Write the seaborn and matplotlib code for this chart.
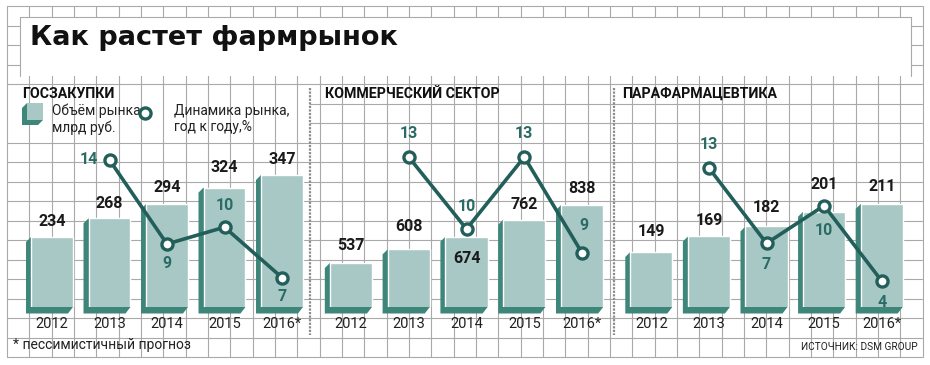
import matplotlib
matplotlib.use("Agg")
import matplotlib.pyplot as plt
from matplotlib.patches import Polygon, Rectangle
import seaborn as sns

# --- data ---
years = ["2012", "2013", "2014", "2015", "2016*"]

gos_volume = [234, 268, 294, 324, 347]
gos_growth = [14, 9, 10, 7]
com_volume = [537, 608, 674, 762, 838]
com_growth = [13, 10, 13, 9]
para_volume = [149, 169, 182, 201, 211]
para_growth = [13, 7, 10, 4]

panel_titles = ["ГОСЗАКУПКИ", "КОММЕРЧЕСКИЙ СЕКТОР", "ПАРАФАРМАЦЕВТИКА"]

# --- style ---
sns.set_style("white")
NARROW = ["Roboto", "DejaVu Sans"]
BOLD = ["Roboto", "DejaVu Sans"]
plt.rcParams["font.family"] = NARROW

GRID = "#a9a9a9"
FACE = "#a8c8c5"
SIDE = "#3e857a"
LINE = "#235f5a"
TEAL_TXT = "#2b6b65"
INK = "#222222"

W, H = 930, 365


def px_rect(x0, y0, x1, y1):
    return [x0 / W, 1 - y1 / H, (x1 - x0) / W, (y1 - y0) / H]


fig = plt.figure(figsize=(W / 100, H / 100), dpi=100)

# background grid in pixel coordinates
bg = fig.add_axes([0, 0, 1, 1])
bg.set_xlim(0, W)
bg.set_ylim(H, 0)
bg.axis("off")

gx = [7 + 22.33 * k for k in range(42)]
gy = [6 + 19.5 * j for j in range(19)]
for x in gx:
    bg.plot([x, x], [6, 357], color=GRID, lw=0.8, zorder=1)
for y in gy:
    if 90 < y < 135:
        bg.plot([310, 922], [y, y], color=GRID, lw=0.8, zorder=1)
    else:
        bg.plot([7, 922], [y, y], color=GRID, lw=0.8, zorder=1)

# title box
bg.add_patch(Rectangle((20, 17), 891, 59, facecolor="white", edgecolor="none", zorder=2))
bg.plot([20, 911], [17, 17], color=GRID, lw=0.8, zorder=3)
bg.plot([20, 20], [17, 76], color=GRID, lw=0.8, zorder=3)
bg.plot([911, 911], [17, 76], color=GRID, lw=0.8, zorder=3)
bg.text(30, 45, "Как растет фармрынок", fontsize=19.5, fontweight="black",
        family=["DejaVu Sans"], color="#111111", va="baseline", ha="left", zorder=4)

# separators
for sx in [310, 614]:
    bg.plot([sx, sx], [88, 335], color="#8c8c8c", lw=1.6, ls=(0, (1, 0.6)), zorder=3)

# legend
d = 5
bg.add_patch(Polygon([(27, 103), (27 - d, 103 + d), (27 - d, 125), (43 - d, 125), (43, 120)],
                     closed=True, facecolor=SIDE, edgecolor="none", zorder=3))
bg.add_patch(Rectangle((27, 103), 16, 17, facecolor=FACE, edgecolor="none", zorder=4))
bg.text(52, 119, "Объём рынка\nмлрд руб.", fontsize=10, va="center", ha="left",
        linespacing=1.2, color=INK, zorder=4)
bg.plot([145], [113], marker="o", ms=8, mfc="white", mec=LINE, mew=2.4, zorder=4)
bg.text(174, 119, "Динамика рынка,\nгод к году,%", fontsize=10, va="center", ha="left",
        linespacing=1.2, color=INK, zorder=4)

bg.text(13, 345, "* пессимистичный прогноз", fontsize=10, va="center", ha="left",
        color=INK, zorder=4)
bg.text(918, 347, "ИСТОЧНИК: DSM GROUP", fontsize=7.3, va="center", ha="right",
        color=INK, zorder=4)

# panels
panels = [
    dict(x=(23.25, 310.75), vol=gos_volume, gr=gos_growth, ylim=(106.5, 520), ylim2=(5.25, 18.76),
         title_x=22, vol_off=[16, 15, 17, 20, 15],
         gr_off=[(-21, 0), (0, -20), (0, 22), (0, -19)]),
    dict(x=(322, 611), vol=com_volume, gr=com_growth, ylim=(309, 1487), ylim2=(6.75, 16.21),
         title_x=325, vol_off=[18, 23, -22, 15, 17],
         gr_off=[(0, 24), (0, 23), (0, 24), (2, 28)]),
    dict(x=(622.5, 910.5), vol=para_volume, gr=para_growth, ylim=(78, 371), ylim2=(1.93, 20.0),
         title_x=622, vol_off=[20, 16, 19, 27, 17],
         gr_off=[(0, 23), (0, -21), (0, -25), (0, -22)]),
]

AX_TOP, AX_BOT = 80, 307

for p, title in zip(panels, panel_titles):
    x0, x1 = p["x"]
    ax = fig.add_axes(px_rect(x0, AX_TOP, x1, AX_BOT))
    ax.patch.set_alpha(0)
    sns.barplot(x=years, y=p["vol"], ax=ax, color=FACE, saturation=1, width=0.73, zorder=3)
    ax.set_xlim(-0.5, 4.5)
    ax.set_ylim(*p["ylim"])
    for s in ax.spines.values():
        s.set_visible(False)
    ax.set_yticks([])
    ax.tick_params(axis="x", length=0, pad=7, labelsize=10.5, colors=INK)

    # 3D side of each bar
    w_px = x1 - x0
    h_px = AX_BOT - AX_TOP
    dx = d * 5 / w_px
    dy = d * (p["ylim"][1] - p["ylim"][0]) / h_px
    base = p["ylim"][0]
    for bar in ax.patches:
        L = bar.get_x()
        R = L + bar.get_width()
        T = bar.get_height()
        ax.add_patch(Polygon([(L, T), (L - dx, T - dy), (L - dx, base - dy * 1.3),
                              (R - dx, base - dy * 1.3), (R, base)],
                             closed=True, facecolor=SIDE, edgecolor="none",
                             zorder=2, clip_on=False))

    for i, (v, off) in enumerate(zip(p["vol"], p["vol_off"])):
        ax.annotate(str(v), (i, v), xytext=(0, off), textcoords="offset pixels",
                    ha="center", va="center", fontsize=11.5, fontweight="bold",
                    family=BOLD, color="#1a1a1a", zorder=5)

    ax2 = ax.twinx()
    ax2.patch.set_alpha(0)
    sns.lineplot(x=years[1:], y=p["gr"], ax=ax2, color=LINE, lw=2.6, marker="o",
                 markersize=8, markerfacecolor="white", markeredgecolor=LINE,
                 markeredgewidth=2.4, sort=False, zorder=6)
    ax2.set_ylim(*p["ylim2"])
    ax2.set_yticks([])
    ax2.set_ylabel("")
    for s in ax2.spines.values():
        s.set_visible(False)
    for i, (v, off) in enumerate(zip(p["gr"], p["gr_off"])):
        ax2.annotate(str(v), (i + 1, v), xytext=off, textcoords="offset pixels",
                     ha="center", va="center", fontsize=11.5, fontweight="bold",
                     family=BOLD, color=TEAL_TXT, zorder=7)

    bg.text(p["title_x"], 94, title, fontsize=10.2, fontweight="bold", family=BOLD,
            color="#111111", va="center", ha="left", zorder=4)

fig.savefig("out.png", dpi=100)
